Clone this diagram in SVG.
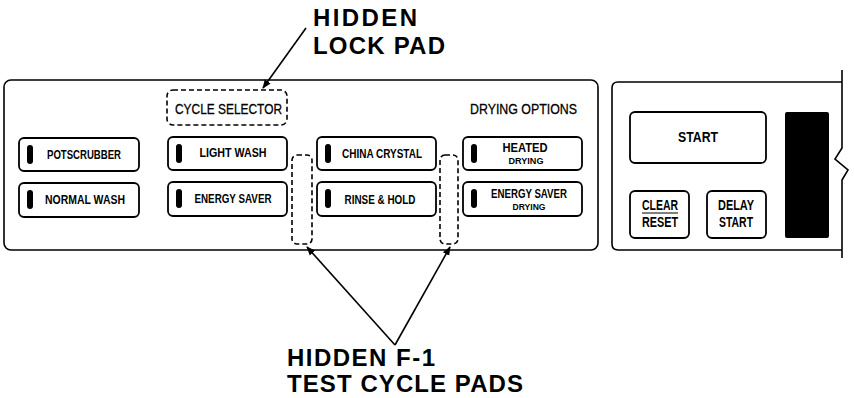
<svg xmlns="http://www.w3.org/2000/svg" width="854" height="398" viewBox="0 0 854 398">
<style>
.panel{fill:none;stroke:#000;stroke-width:1.6}
.btn{fill:#fff;stroke:#000;stroke-width:1.8}
.hid{fill:none;stroke:#000;stroke-width:1.6;stroke-dasharray:5 3}
.led{fill:#000}
.lbl{font-family:"Liberation Sans",Arial,sans-serif;font-size:13px;font-weight:bold;fill:#000;text-anchor:middle}
.sm{font-size:9px}
.hd{font-family:"Liberation Sans",Arial,sans-serif;font-size:15px;fill:#000;stroke:#000;stroke-width:0.3}
.big{font-family:"Liberation Sans",Arial,sans-serif;font-size:24px;font-weight:bold;fill:#000}
.ln{stroke:#000;stroke-width:1.6;fill:none}
</style>
<defs>
<marker id="ah" viewBox="0 0 10 10" refX="9" refY="5" markerWidth="9" markerHeight="9" markerUnits="userSpaceOnUse" orient="auto">
<path d="M0,1 L10,5 L0,9 Z" fill="#000"/>
</marker>
</defs>
<rect width="854" height="398" fill="#fff"/>
<g id="left-panel">
<rect class="panel" x="4" y="80" width="594" height="170" rx="7"/>
</g>
<g id="right-panel">
<path class="panel" d="M842,82 L618,82 Q612,82 612,88 L612,244 Q612,250 618,250 L842,250"/>
<path class="panel" d="M842,70 L842,148 L835,159 L848,170 L842,180 L842,258"/>
</g>
<g id="cycle-selector">
<rect class="hid" x="167" y="90" width="120" height="35" rx="6"/>
<text class="hd" x="175" y="114" textLength="107" lengthAdjust="spacingAndGlyphs">CYCLE SELECTOR</text>
</g>
<g id="drying-options">
<text class="hd" x="470" y="114" textLength="107" lengthAdjust="spacingAndGlyphs">DRYING OPTIONS</text>
</g>
<g id="potscrubber">
<rect class="btn" x="19" y="138" width="120" height="33" rx="5"/>
<rect class="led" x="27" y="145" width="6" height="19" rx="3"/>
<text class="lbl" x="84" y="159" textLength="74" lengthAdjust="spacingAndGlyphs">POTSCRUBBER</text>
</g>
<g id="normal-wash">
<rect class="btn" x="19" y="183" width="120" height="34" rx="5"/>
<rect class="led" x="27" y="190" width="6" height="19" rx="3"/>
<text class="lbl" x="85" y="204" textLength="80" lengthAdjust="spacingAndGlyphs">NORMAL WASH</text>
</g>
<g id="light-wash">
<rect class="btn" x="168" y="137" width="119" height="33" rx="5"/>
<rect class="led" x="176" y="144" width="6" height="19" rx="3"/>
<text class="lbl" x="233" y="157" textLength="67" lengthAdjust="spacingAndGlyphs">LIGHT WASH</text>
</g>
<g id="energy-saver">
<rect class="btn" x="168" y="182" width="119" height="34" rx="5"/>
<rect class="led" x="176" y="189" width="6" height="19" rx="3"/>
<text class="lbl" x="233" y="203" textLength="77" lengthAdjust="spacingAndGlyphs">ENERGY SAVER</text>
</g>
<g id="hidden-pad-1">
<rect class="hid" x="292" y="155" width="20" height="89" rx="5"/>
</g>
<g id="china-crystal">
<rect class="btn" x="317" y="137" width="119" height="33" rx="5"/>
<rect class="led" x="325" y="144" width="6" height="19" rx="3"/>
<text class="lbl" x="382" y="158" textLength="80" lengthAdjust="spacingAndGlyphs">CHINA CRYSTAL</text>
</g>
<g id="rinse-hold">
<rect class="btn" x="317" y="182" width="119" height="34" rx="5"/>
<rect class="led" x="325" y="189" width="6" height="19" rx="3"/>
<text class="lbl" x="380" y="204" textLength="71" lengthAdjust="spacingAndGlyphs">RINSE &amp; HOLD</text>
</g>
<g id="hidden-pad-2">
<rect class="hid" x="440" y="155" width="18" height="89" rx="5"/>
</g>
<g id="heated-drying">
<rect class="btn" x="463" y="137" width="119" height="33" rx="5"/>
<rect class="led" x="471" y="144" width="6" height="19" rx="3"/>
<text class="lbl" x="525" y="152" textLength="45" lengthAdjust="spacingAndGlyphs">HEATED</text>
<text class="lbl sm" x="526" y="164" textLength="35" lengthAdjust="spacingAndGlyphs">DRYING</text>
</g>
<g id="energy-saver-drying">
<rect class="btn" x="463" y="182" width="119" height="34" rx="5"/>
<rect class="led" x="471" y="189" width="6" height="19" rx="3"/>
<text class="lbl" x="529" y="198" textLength="76" lengthAdjust="spacingAndGlyphs">ENERGY SAVER</text>
<text class="lbl sm" x="529" y="210" textLength="33" lengthAdjust="spacingAndGlyphs">DRYING</text>
</g>
<g id="start">
<rect class="btn" x="630" y="112" width="136" height="51" rx="5"/>
<text class="lbl" x="698" y="142" style="font-size:15px" textLength="40" lengthAdjust="spacingAndGlyphs">START</text>
</g>
<g id="clear-reset">
<rect class="btn" x="630" y="191" width="59" height="47" rx="5"/>
<text class="lbl" x="660" y="210" style="font-size:14px" textLength="36" lengthAdjust="spacingAndGlyphs">CLEAR</text>
<line class="ln" x1="642" y1="213" x2="678" y2="213" style="stroke-width:1.2"/>
<text class="lbl" x="660" y="227" style="font-size:14px" textLength="36" lengthAdjust="spacingAndGlyphs">RESET</text>
</g>
<g id="delay-start">
<rect class="btn" x="707" y="191" width="59" height="47" rx="5"/>
<text class="lbl" x="736" y="210" style="font-size:14px" textLength="36" lengthAdjust="spacingAndGlyphs">DELAY</text>
<text class="lbl" x="736" y="227" style="font-size:14px" textLength="34" lengthAdjust="spacingAndGlyphs">START</text>
</g>
<g id="display">
<rect x="785" y="112" width="44" height="126" rx="2" fill="#000"/>
</g>
<g id="label-lock-pad">
<text class="big" x="313" y="26" textLength="104" lengthAdjust="spacing">HIDDEN</text>
<text class="big" x="313" y="54" textLength="132" lengthAdjust="spacing">LOCK PAD</text>
</g>
<g id="label-test-pads">
<text class="big" x="287" y="366" textLength="148" lengthAdjust="spacing">HIDDEN F-1</text>
<text class="big" x="287" y="392" textLength="236" lengthAdjust="spacing">TEST CYCLE PADS</text>
</g>
<g id="connectors">
<line class="ln" x1="306" y1="28" x2="263" y2="88" marker-end="url(#ah)"/>
<line class="ln" x1="395" y1="345" x2="307" y2="247" marker-end="url(#ah)"/>
<line class="ln" x1="395" y1="345" x2="450" y2="247" marker-end="url(#ah)"/>
</g>
</svg>
